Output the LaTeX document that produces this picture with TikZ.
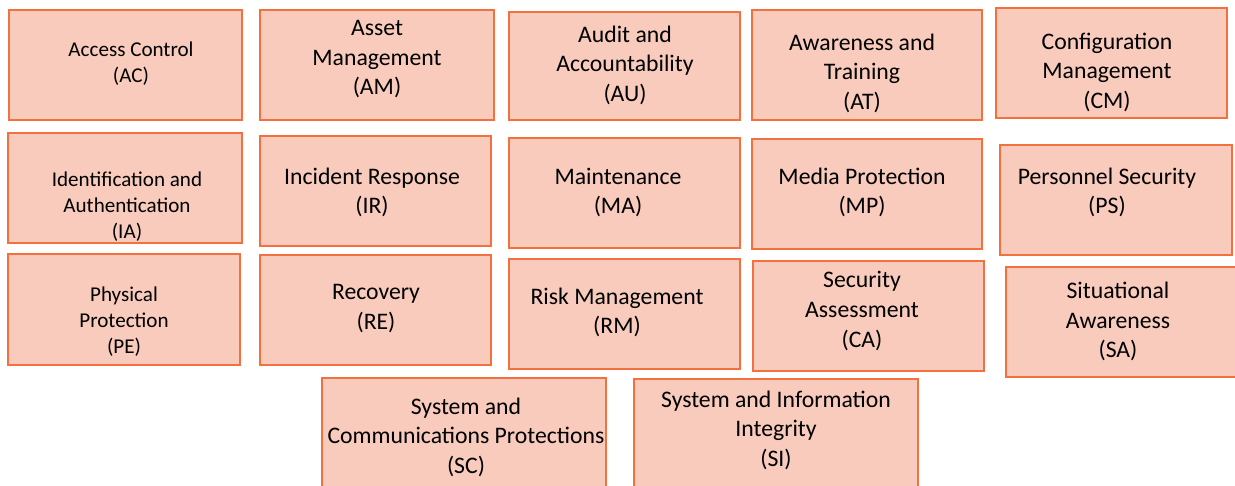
\documentclass[tikz,border=0pt]{standalone}
\usepackage{fontspec}
\setmainfont{Carlito}

\definecolor{boxfill}{HTML}{F8CBBC}
\definecolor{boxline}{HTML}{F2713F}

\tikzset{
  box/.style={fill=boxfill, draw=boxline, line width=0.8pt},
  lbl/.style={align=center, inner sep=0pt, font=\fontsize{13.5}{16.8}\selectfont},
  lblsmall/.style={lbl, font=\fontsize{12}{14.8}\selectfont}
}

\begin{document}
\begin{tikzpicture}[x=0.02cm, y=-0.02cm]
		\clip (0,0) rectangle (1235,486);

		% First row
		\draw[box] (9,10) rectangle (242,120);
		\node[lblsmall] (ac) at (131,64) {Access Control\\(AC)};
		\draw[box] (260,10) rectangle (494,120);
		\node[lbl] (am) at (377,59.5) {Asset\\Management\\(AM)};
		\draw[box] (509,12) rectangle (740,120);
		\node[lbl] (au) at (625,65) {Audit and\\Accountability\\(AU)};
		\draw[box] (752,10) rectangle (982,120);
		\node[lbl] (at) at (862,73) {Awareness and\\Training\\(AT)};
		\draw[box] (996,8) rectangle (1227,118);
		\node[lbl] (cm) at (1107,72) {Configuration\\Management\\(CM)};

		% Second row
		\draw[box] (8,133) rectangle (242,243);
		\node[lblsmall] (ia) at (127,207) {Identification and\\Authentication\\(IA)};
		\draw[box] (260,136) rectangle (491,246);
		\node[lbl] (ir) at (372,192.5) {Incident Response\\(IR)};
		\draw[box] (509,138) rectangle (740,248);
		\node[lbl] (ma) at (618,192.5) {Maintenance\\(MA)};
		\draw[box] (752,139) rectangle (982,249);
		\node[lbl] (mp) at (862,192.5) {Media Protection\\(MP)};
		\draw[box] (1000,145) rectangle (1232,255);
		\node[lbl] (ps) at (1107,192.5) {Personnel Security\\(PS)};

		% Third row
		\draw[box] (8,254) rectangle (240,365);
		\node[lblsmall] (pe) at (124,322) {Physical\\Protection\\(PE)};
		\draw[box] (260,255) rectangle (491,365);
		\node[lbl] (re) at (376,308.5) {Recovery\\(RE)};
		\draw[box] (509,259) rectangle (740,369);
		\node[lbl] (rm) at (617,312.5) {Risk Management\\(RM)};
		\draw[box] (753,261) rectangle (984,371);
		\node[lbl] (ca) at (862,311) {Security\\Assessment\\(CA)};
		\draw[box] (1006,267) rectangle (1236,377);
		\node[lbl] (sa) at (1118,321.5) {Situational\\Awareness\\(SA)};

		% Last row, cut at the bottom
		\draw[box] (322,378) rectangle (606,500);
		\node[lbl] (sc) at (466,437) {System and\\Communications Protections\\(SC)};
		\draw[box] (634,379) rectangle (918,500);
		\node[lbl] (si) at (776,430) {System and Information\\Integrity\\(SI)};
	\end{tikzpicture}
\end{document}
